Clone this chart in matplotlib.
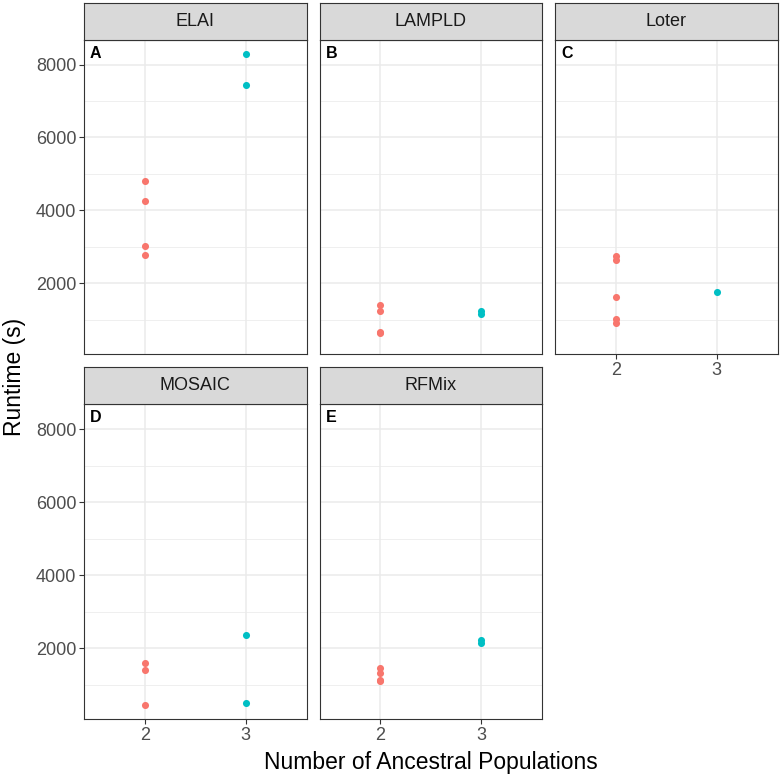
import numpy as np
import matplotlib.pyplot as plt
from matplotlib.ticker import MultipleLocator

plt.rcParams['font.family'] = ['Liberation Sans', 'DejaVu Sans']

methods = ["ELAI", "LAMPLD", "Loter", "MOSAIC", "RFMix"]
tags = ["A", "B", "C", "D", "E"]
levels = ["2", "3"]

# runtime (s) per method, for 2 and 3 ancestral populations
runtime_2 = {
    "ELAI":   [4815, 4270, 3030, 2785],
    "LAMPLD": [1420, 1250, 670, 635],
    "Loter":  [2755, 2630, 1620, 1035, 920],
    "MOSAIC": [1595, 1405, 455],
    "RFMix":  [1460, 1330, 1150, 1100],
}
runtime_3 = {
    "ELAI":   [8295, 7440],
    "LAMPLD": [1250, 1150],
    "Loter":  [1765],
    "MOSAIC": [2380, 505],
    "RFMix":  [2230, 2140],
}

col_2 = "#F8766D"
col_3 = "#00BFC4"

W, H = 780, 779
fig = plt.figure(figsize=(W / 100, H / 100), dpi=100)

def box(left, top, width, height):
    return [left / W, 1 - (top + height) / H, width / W, height / H]

lefts = [84, 319.5, 555]
pw = 222.5
rows = [(3, 39.5, 314.5), (367.3, 404, 315.3)]

allv = [v for d in (runtime_2, runtime_3) for k in d for v in d[k]]
lo, hi = min(allv), max(allv)
pad = 0.05 * (hi - lo)
ylim = (lo - pad, hi + pad)

for i, m in enumerate(methods):
    r, c = divmod(i, 3)
    stop, ptop, ph = rows[r]
    ax = fig.add_axes(box(lefts[c], ptop, pw, ph))
    ax.set_facecolor("white")
    ax.set_xlim(0.4, 2.6)
    ax.set_ylim(*ylim)
    ax.set_xticks([1, 2])
    ax.set_xticklabels(levels)
    ax.yaxis.set_major_locator(MultipleLocator(2000))
    ax.yaxis.set_minor_locator(MultipleLocator(1000))
    ax.grid(which="major", color="#EBEBEB", lw=1.1, zorder=0)
    ax.grid(which="minor", axis="y", color="#EBEBEB", lw=0.55, zorder=0)
    ax.set_axisbelow(True)
    for s in ax.spines.values():
        s.set_color("#333333")
        s.set_linewidth(0.8)
    ax.tick_params(which="major", length=3.5, width=0.8, color="#333333",
                   labelcolor="#4D4D4D", labelsize=13, pad=2)
    ax.tick_params(which="minor", length=0)
    show_x = (r == 1) or (c == 2)
    show_y = (c == 0)
    if not show_x:
        ax.tick_params(axis="x", length=0, labelbottom=False)
    if not show_y:
        ax.tick_params(axis="y", length=0, labelleft=False)

    y2 = runtime_2[m]
    y3 = runtime_3[m]
    ax.scatter(np.full(len(y2), 1), y2, s=26, color=col_2, lw=0, zorder=3)
    ax.scatter(np.full(len(y3), 2), y3, s=26, color=col_3, lw=0, zorder=3)

    ax.text(6 / pw, 1 - 18 / ph, tags[i], transform=ax.transAxes,
            fontsize=11.5, fontweight="bold", color="black", va="baseline", ha="left")

    sax = fig.add_axes(box(lefts[c], stop, pw, ptop - stop))
    sax.set_facecolor("#D9D9D9")
    sax.set_xticks([])
    sax.set_yticks([])
    for s in sax.spines.values():
        s.set_color("#333333")
        s.set_linewidth(0.8)
    sax.text(0.5, 0.5, m, ha="center", va="center", fontsize=13, color="#1A1A1A",
             transform=sax.transAxes)

fig.text(15 / W, 1 - 377 / H, "Runtime (s)", rotation=90, ha="center", va="center",
         fontsize=16.5, color="black")
fig.text(431 / W, 1 - 763 / H, "Number of Ancestral Populations", ha="center", va="center",
         fontsize=16.5, color="black")

fig.savefig("out.png", dpi=100)
